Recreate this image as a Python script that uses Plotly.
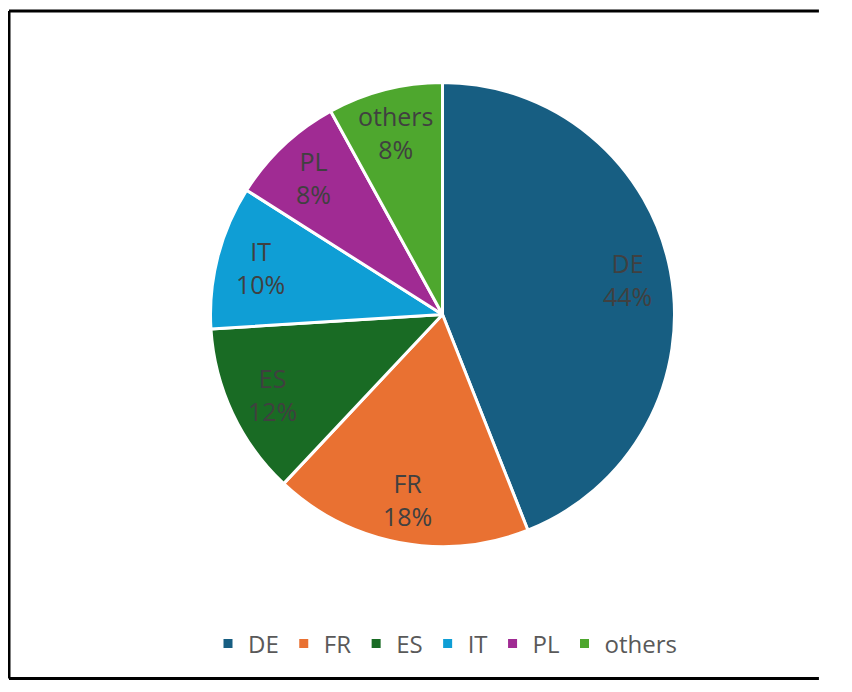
import math
import plotly.graph_objects as go

labels = ["DE", "FR", "ES", "IT", "PL", "others"]
values = [44, 18, 12, 10, 8, 8]
colors = ["#175E82", "#E97132", "#196B24", "#0F9ED5", "#A02B93", "#4EA72E"]

# the page body has an 8px margin, so the figure is laid out in page pixels minus 8
OFF = 8
W, H = 852 - 2 * OFF, 692 - 2 * OFF - 4
cx, cy, R = 442.5 - OFF, 314.5 - OFF, 232  # pie centre / radius in figure pixels

FONT = "Open Sans, Liberation Sans, sans-serif"

fig = go.Figure(go.Pie(
    labels=labels, values=values, sort=False, direction="clockwise", rotation=0,
    marker=dict(colors=colors, line=dict(color="white", width=3)),
    textinfo="none", hoverinfo="label+percent",
    domain=dict(x=[(cx - R) / W, (cx + R) / W], y=[1 - (cy + R) / H, 1 - (cy - R) / H]),
))

# labels placed at the slice mid-angles, computed from the values
total = sum(values)
cum = 0
ann = []
for lab, v in zip(labels, values):
    mid = (cum + v / 2) / total * 2 * math.pi
    cum += v
    r = 0.81 * R
    px = cx + r * math.sin(mid)
    py = cy - r * math.cos(mid)
    ann.append(dict(x=px / W, y=1 - py / H, xref="paper", yref="paper", showarrow=False,
                    xanchor="center", yanchor="middle",
                    text=f"{lab}<br>{round(v / total * 100)}%",
                    font=dict(size=25, color="#404040", family=FONT),
                    align="center"))

# chart border (left, top, bottom edges; the right edge lies outside the window)
bl, bt, bb = (9 - OFF) / W, 1 - (11 - OFF) / H, 1.5 / H
br = 0.97
border = dict(color="black", width=3)

fig.update_layout(
    width=W, height=H, margin=dict(l=0, r=0, t=0, b=0),
    paper_bgcolor="white", plot_bgcolor="white",
    showlegend=True,
    legend=dict(orientation="h", x=(445 - OFF) / W, xanchor="center", y=1 - (644 - OFF) / H, yanchor="middle",
                font=dict(size=24, color="#595959", family=FONT),
                traceorder="normal", itemclick=False, itemwidth=30),
    annotations=ann,
    shapes=[
        dict(type="line", xref="paper", yref="paper", x0=bl, x1=bl, y0=bb, y1=bt, line=border),
        dict(type="line", xref="paper", yref="paper", x0=bl, x1=br, y0=bt, y1=bt, line=border),
        dict(type="line", xref="paper", yref="paper", x0=bl, x1=br, y0=bb, y1=bb, line=border),
    ],
)

fig.write_html("out.html")
